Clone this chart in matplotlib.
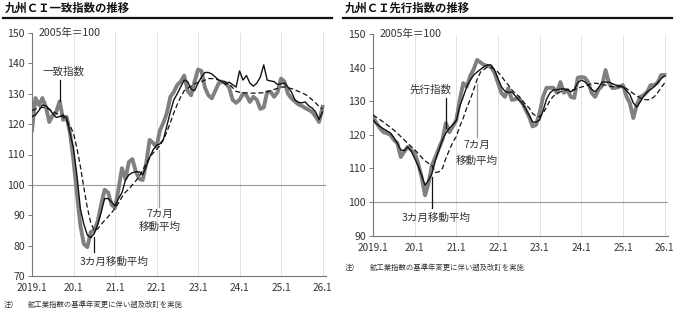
import matplotlib
matplotlib.use("Agg")
import matplotlib.pyplot as plt
import numpy as np

plt.rcParams['font.family'] = ['Noto Sans CJK JP', 'DejaVu Sans']

# months from 2019.1 (0) to 2026.1 (84)
year_ticks = [0, 12, 24, 36, 48, 60, 72, 84]
year_labels = ['2019.1', '20.1', '21.1', '22.1', '23.1', '24.1', '25.1', '26.1']

# 九州CI 一致指数
coin_index = [118, 128.6, 126.3, 128.6, 125.7, 120.7, 123, 124, 127.5, 121.4,
              122.4, 117, 108, 97, 86.5, 80.5, 79.5, 84.5, 85, 88,
              93.5, 98.4, 97.5, 93.5, 92.4, 98.5, 105.5, 102, 107.5, 108.5,
              104.5, 102, 101.6, 107, 114.8, 113.8, 112.5, 118, 120.5, 123.7,
              129, 130.6, 132.9, 134, 136, 131, 129.5, 134, 138, 137.5,
              132, 129.5, 128.5, 131, 133.5, 134, 133.5, 132, 128, 127,
              128, 130, 129.5, 127.3, 129, 128, 125, 125.5, 130.6, 130.6,
              129, 130.5, 135, 134, 130, 128.5, 127.5, 126.5, 126, 125.3,
              124.7, 124, 122.5, 120.7, 125.7]
coin_ma3 = [122.5, 123, 124.5, 126.3, 126, 125, 123.5, 122.2, 122.5, 123,
            122, 117, 112, 103, 92, 87, 83.5, 82.6, 84, 87,
            91, 95.5, 95.5, 94.4, 93, 95.5, 97.4, 101.5, 103.3, 104,
            104.3, 104.3, 103.3, 106, 109, 111.5, 113, 113.5, 115, 119.5,
            124, 128, 130, 132.3, 134.5, 134, 131.5, 131, 133.5, 135.5,
            137, 137, 136.5, 135.5, 134.5, 134, 133, 133.8, 133, 132.2,
            137.5, 134.5, 136, 133.5, 132.5, 133.5, 135.5, 139.5, 134.5, 134.2,
            134, 133, 133.3, 133.5, 132.2, 130.6, 128, 127.2, 127, 127.3,
            126, 125.3, 124, 121.5, 124]
coin_ma7 = [124.5, 125, 125.3, 125.5, 125.3, 124.8, 124.2, 123.5, 123, 122.4,
            121, 119.5, 117, 112, 106, 99, 92.5, 87.5, 85, 85.5,
            87, 88.3, 89.5, 90.8, 92.3, 94, 96, 97.6, 98.6, 100,
            101.3, 102.8, 104.8, 107, 109, 110.5, 111.5, 113, 114.8, 117.5,
            120.5, 123.7, 126.5, 129, 131, 131.8, 132.5, 133.2, 133.8, 134,
            134.5, 135, 135, 134.8, 134.5, 134.2, 133.8, 133.2, 132, 130.8,
            130.5, 130.3, 130.3, 130.2, 130.2, 130.2, 130.3, 130.3, 130.6, 131,
            131.4, 131.8, 132.2, 132.2, 132, 131.7, 131.3, 130.8, 130.3, 129.8,
            129, 128, 127, 125.8, 125]

# 九州CI 先行指数
lead_index = [125.3, 123.5, 122, 120.8, 120.5, 120, 118.5, 117.6, 113.4, 115,
              116.4, 115.5, 114.6, 111.6, 107.5, 102, 105.6, 111, 113.4, 116,
              118.5, 123.5, 120.8, 122.5, 124.4, 130.4, 135.4, 134.3, 137.5, 139.5,
              142.3, 141.5, 140.8, 140.5, 140.2, 138.5, 135.5, 132.5, 131.3, 133.9,
              130.4, 130.6, 131, 129.5, 127.4, 125.3, 122.5, 123, 126.5, 131.3,
              134, 134, 134, 132.5, 135.7, 132.5, 133.4, 131.3, 131, 137,
              137.2, 137, 135.7, 132.5, 131.3, 133.5, 134.5, 139.3, 135.4, 133.9,
              134, 134.3, 134.8, 131.5, 129.5, 125, 128.9, 131.3, 131.8, 132.8,
              134.8, 134.8, 135.5, 137.8, 137.8]
lead_ma3 = [124.4, 123.3, 122.5, 121.8, 121.2, 120.6, 119.2, 117.5, 115.5, 115.3,
            116.4, 115.2, 113, 110.8, 108, 105, 106.5, 108.5, 112.5, 115.5,
            118.5, 120.5, 122, 123, 124.2, 128.5, 131.3, 134.3, 136.2, 137.8,
            138.7, 139.5, 140.3, 140.8, 140.8, 139.3, 136.8, 134.3, 133, 132.6,
            132.8, 131.6, 130.4, 129.4, 127.8, 125.8, 123.8, 123.8, 124.4, 127.2,
            130.6, 132.5, 133.4, 133.4, 133.6, 133.7, 133.4, 132.8, 133.5, 135.5,
            136.3, 135.8, 134.8, 133.5, 132.8, 134, 135.7, 135.7, 135.7, 135.2,
            134.8, 134.6, 134.3, 133.2, 132, 129.5, 128.3, 129.8, 131.5, 132.8,
            133.5, 134.3, 135.5, 136.7, 137.5]
lead_ma7 = [125.9, 125.2, 124.5, 123.8, 123, 122.2, 121.4, 120.5, 119.5, 118.5,
            117.5, 116.5, 115.6, 114.5, 113.3, 112.3, 111.5, 110.8, 108.8, 109,
            110, 113, 115.5, 117.8, 119.5, 122.5, 125, 128, 130.5, 133.4,
            136.5, 138.7, 139.5, 140.2, 140, 139.5, 138.7, 137.5, 136, 134.8,
            133.4, 132.3, 131.5, 130.3, 129, 128, 126.3, 125.6, 125.4, 126.5,
            128.2, 130.3, 131.5, 132.3, 132.8, 133.2, 133.4, 133.4, 133.4, 133.8,
            134.2, 134.5, 134.8, 135.2, 135.4, 135.2, 134.9, 134.8, 134.5, 134.3,
            134.3, 134.3, 134.3, 133.8, 133, 132.3, 131.6, 131, 130.6, 130.4,
            130.6, 131.3, 132.5, 134, 135.4]

W, H = 680, 324
fig = plt.figure(figsize=(W / 100, H / 100), dpi=100)

TXT = '#333333'
FS = 7.6


def draw_panel(rect, idx, ma3, ma7, ylo, yticks):
    ax = fig.add_axes(rect)
    months = np.arange(len(idx))
    ax.plot(months, idx, color='#808080', lw=2.8, solid_joinstyle='round', zorder=3)
    ax.plot(months, ma3, color='#111111', lw=1.0, zorder=4)
    ax.plot(months, ma7, color='#111111', lw=0.9, ls=(0, (4, 2.2)), zorder=4)
    ax.set_xlim(0, 85)
    ax.set_ylim(ylo, 150)
    for m in year_ticks[1:]:
        ax.axvline(m, color='#bbbbbb', lw=0.6, ls=(0, (1.2, 1.2)), zorder=1)
    ax.axhline(100, color='#999999', lw=0.8, zorder=2)
    for s in ['top', 'right']:
        ax.spines[s].set_visible(False)
    for s in ['left', 'bottom']:
        ax.spines[s].set_color('#777777')
        ax.spines[s].set_linewidth(0.8)
    ax.set_yticks(yticks)
    ax.set_xticks(year_ticks)
    ax.set_xticklabels(year_labels)
    ax.tick_params(axis='y', direction='out', length=3, width=0.7, color='#777777',
                   labelsize=FS, labelcolor=TXT, pad=2)
    ax.tick_params(axis='x', direction='in', length=0, labelsize=FS - 0.4,
                   labelcolor=TXT, pad=5)
    ax.text(1.9, 150, '2005年＝100', fontsize=FS, color=TXT, va='center', ha='left')
    return ax


# 左：一致指数
axl = draw_panel([32 / W, 1 - 276 / H, 294 / W, 243 / H], coin_index, coin_ma3, coin_ma7,
                 70, [70, 80, 90, 100, 110, 120, 130, 140, 150])
axl.text(9.2, 137.2, '一致指数', fontsize=FS, color=TXT, ha='center', va='center')
axl.plot([8, 8], [134.5, 127.5], color='#111111', lw=0.9, zorder=5)
axl.text(23.7, 74.7, '3カ月移動平均', fontsize=FS, color=TXT, ha='center', va='center')
axl.plot([17.8, 17.8], [83, 78], color='#111111', lw=0.9, zorder=5)
axl.text(37, 90.5, '7カ月', fontsize=FS, color=TXT, ha='center', va='center')
axl.text(37, 86.2, '移動平均', fontsize=FS, color=TXT, ha='center', va='center')
axl.plot([36.7, 36.7], [111.5, 92.8], color='#999999', lw=0.9, zorder=5)

# 右：先行指数
axr = draw_panel([373 / W, 1 - 235.7 / H, 295 / W, 201.7 / H], lead_index, lead_ma3, lead_ma7,
                 90, [90, 100, 110, 120, 130, 140, 150])
axr.text(16.7, 133.4, '先行指数', fontsize=FS, color=TXT, ha='center', va='center')
axr.plot([21.1, 21.1], [131, 122], color='#111111', lw=0.9, zorder=5)
axr.text(30, 117, '7カ月', fontsize=FS, color=TXT, ha='center', va='center')
axr.text(30, 112.2, '移動平均', fontsize=FS, color=TXT, ha='center', va='center')
axr.plot([29.9, 29.9], [135, 119.5], color='#999999', lw=0.9, zorder=5)
axr.text(18.2, 95.3, '3カ月移動平均', fontsize=FS, color=TXT, ha='center', va='center')
axr.plot([16.9, 16.9], [107.6, 98.2], color='#111111', lw=0.9, zorder=5)

# タイトルと下線
fig.text(5 / W, 1 - 8.5 / H, '九州ＣＩ一致指数の推移', fontsize=8.2, weight='bold',
         color='#111111', va='center', ha='left')
fig.text(345 / W, 1 - 8.5 / H, '九州ＣＩ先行指数の推移', fontsize=8.2, weight='bold',
         color='#111111', va='center', ha='left')
fig.add_artist(plt.Line2D([3 / W, 332 / W], [1 - 18 / H, 1 - 18 / H], color='#111111', lw=1.6))
fig.add_artist(plt.Line2D([343 / W, 672 / W], [1 - 18 / H, 1 - 18 / H], color='#111111', lw=1.6))

# 注記
note = '鉱工業指数の基準年変更に伴い遡及改訂を実施'
fig.text(4 / W, 1 - 305 / H, '注）', fontsize=5.3, color=TXT, va='center')
fig.text(28 / W, 1 - 305 / H, note, fontsize=5.3, color=TXT, va='center')
fig.text(345 / W, 1 - 268 / H, '注）', fontsize=5.3, color=TXT, va='center')
fig.text(370 / W, 1 - 268 / H, note, fontsize=5.3, color=TXT, va='center')

fig.savefig('out.png', dpi=100)
